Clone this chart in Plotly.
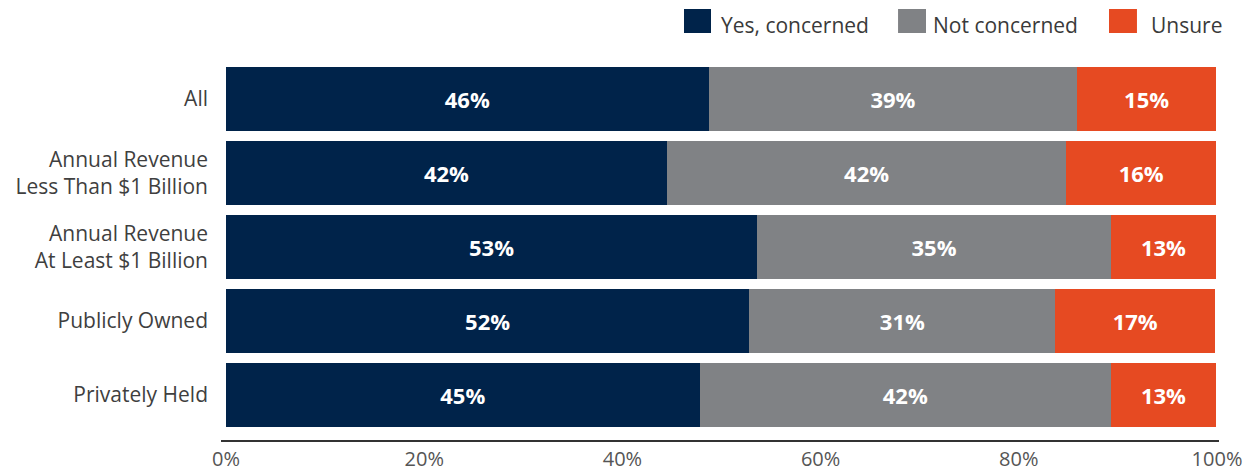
import plotly.graph_objects as go

categories = ["All", "Annual Revenue<br>Less Than $1 Billion", "Annual Revenue<br>At Least $1 Billion",
              "Publicly Owned", "Privately Held"]
series_names = ["Yes, concerned", "Not concerned", "Unsure"]
# bar lengths as drawn in the picture (percent of axis)
yes_vals = [48.7, 44.5, 53.6, 52.8, 47.8]
not_vals = [37.2, 40.3, 35.7, 30.9, 41.5]
unsure_vals = [14.0, 15.1, 10.6, 16.1, 10.6]
# printed labels
yes_labels = ["46%", "42%", "53%", "52%", "45%"]
not_labels = ["39%", "42%", "35%", "31%", "42%"]
unsure_labels = ["15%", "16%", "13%", "17%", "13%"]
x_ticks = [0, 20, 40, 60, 80, 100]
x_tick_labels = ["0%", "20%", "40%", "60%", "80%", "100%"]

colors = ["#00234A", "#808285", "#E64A22"]
FONT = "Open Sans"

fig = go.Figure()
for name, vals, labs, col in zip(series_names, [yes_vals, not_vals, unsure_vals],
                                 [yes_labels, not_labels, unsure_labels], colors):
    fig.add_trace(go.Bar(
        y=categories, x=vals, name=name, orientation="h",
        marker=dict(color=col, line=dict(width=0)),
        text=labs, textposition="inside", insidetextanchor="middle", textangle=0,
        textfont=dict(family=FONT, size=22, color="white", weight="bold"),
        constraintext="none", showlegend=False, hoverinfo="skip",
    ))

# custom legend (swatches + labels)
legend_items = [
    (0.4639, 0.4910, 0.499, 0),
    (0.6784, 0.7064, 0.7114, 1),
    (0.8898, 0.9178, 0.9299, 2),
]
for x0, x1, xt, i in legend_items:
    fig.add_shape(type="rect", xref="paper", yref="paper", x0=x0, x1=x1, y0=1.0767, y1=1.1402,
                  fillcolor=colors[i], line=dict(width=0))
    fig.add_annotation(xref="paper", yref="paper", x=xt, y=1.098, text=series_names[i],
                       showarrow=False, xanchor="left", yanchor="middle",
                       font=dict(family=FONT, size=21, color="#3a3a3a"))

fig.update_layout(
    width=1255, height=474,
    margin=dict(l=221, r=36, t=62, b=34),
    barmode="stack", bargap=0.135,
    plot_bgcolor="white", paper_bgcolor="white",
    font=dict(family=FONT),
    xaxis=dict(range=[-0.505, 100.2], tickvals=x_ticks, ticktext=x_tick_labels, automargin=False,
               showgrid=False, zeroline=False, showline=True, linecolor="#333333", linewidth=1.5,
               ticks="", ticklabelstandoff=0,
               tickfont=dict(family=FONT, size=20, color="#555555"), fixedrange=True),
    yaxis=dict(categoryorder="array", categoryarray=categories, range=[4.608, -0.5], automargin=False,
               showgrid=False, zeroline=False, showline=False, ticks="", ticklabelstandoff=12,
               tickfont=dict(family=FONT, size=21, color="#3f3f3f"), fixedrange=True),
    uniformtext=dict(mode=False),
)

fig.write_html("out.html")
